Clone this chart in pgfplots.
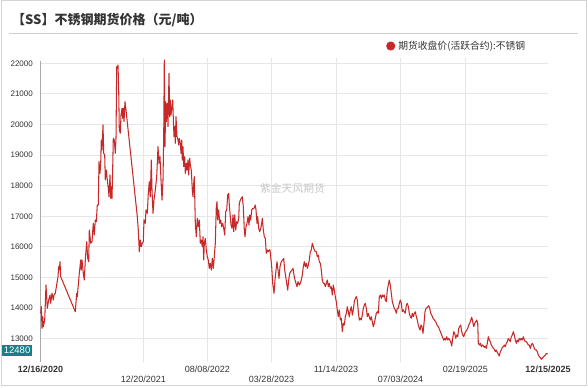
\documentclass[border=0pt]{standalone}
\usepackage{pgfplots}
\pgfplotsset{compat=1.18}
\usepackage{fontspec}
\setmainfont{Liberation Sans}
\newfontfamily\cjk{Noto Sans CJK SC}
\definecolor{ssred}{RGB}{200,40,40}
\definecolor{boxteal}{RGB}{27,125,135}
\definecolor{textgray}{RGB}{51,51,51}
\definecolor{gridgray}{RGB}{230,230,230}
\definecolor{framegray}{RGB}{212,212,212}
\definecolor{axisgray}{RGB}{170,170,170}
\pgfplotstableread{
x y
40.7 13830
41.3 14046
42 13340
42.7 13720
43.3 13392
44.7 13611
46 14755
47.3 13993
48.7 14265
50 14428
50.7 14157
52 14484
53.3 14265
54 14428
55.3 14484
58 15026
58.7 15353
59.3 15245
60 15516
60.7 15026
75.3 13882
76.7 14484
77.3 14373
79.3 15137
80.7 15572
81.3 15245
82 15572
83.3 15137
84.3 14918
85.3 15572
86.7 16170
87.7 15627
88.7 15516
89.3 16552
90.7 16118
92 16170
93.3 16771
94.3 16389
95.3 16879
96.3 16825
97.3 17369
98.3 17369
99 18784
100 18405
100.7 18732
101.3 19493
102 19167
103 19984
103.7 19059
104.7 19003
105.3 18186
106.3 18513
107.3 18186
108.3 17915
109 17640
110 18350
110.7 17588
111.3 17967
112 17588
112.7 18569
113.3 19549
114.3 19493
115.3 19059
116 19549
116.7 21889
117.3 21837
118 21944
118.7 21127
119.3 19820
120.3 19712
121 20310
122 20529
122.7 20203
123.3 20529
124 20092
125 20745
126 20474
126.7 20255
137.3 16990
138.3 16552
139.3 15843
140.3 16225
141.3 16006
142.3 16118
143.3 16170
144 16879
145.3 16771
146 17206
147.3 17098
148.3 17752
149.3 18131
150.3 17640
151.3 18840
152 17859
153 17098
154 17532
155.3 17859
156.7 18294
158 19274
159 18732
160 18948
161 18186
162 17532
163 18186
163.7 19601
164.3 22108
165 19274
165.7 20745
166.3 20092
167.3 20693
168 19928
169 21673
169.7 20255
170.3 20801
171 20310
172 20582
172.7 20801
173.3 20203
174 19601
174.7 19928
175.3 19386
176 20255
177 19601
178 19493
178.7 19330
179.3 19549
180.3 19386
181 19059
181.7 19493
182.3 18840
183 19274
183.7 18621
184.7 18948
185.3 18405
186.3 18732
187 18513
188 18840
188.7 18350
189.7 18895
190.3 18676
191.3 18513
192.3 17859
193 17640
193.7 18078
194.3 18294
195.3 16771
196.3 16333
197.3 16935
198.3 16660
199.3 16879
200.3 16118
201.3 16225
202.3 16006
203 16333
203.7 15572
204.3 16118
205.3 16281
206.3 15899
207.3 15680
208.3 15572
209.3 15300
210.3 15464
211.3 15245
212.3 15627
213.3 15300
214.3 15680
215.3 16118
216.3 17314
217 17477
217.7 16879
218.7 17206
219.7 16771
220.7 16879
221.7 16660
222.7 16771
223.7 16608
224.7 16389
225.7 17150
226.7 17206
227.7 17696
228.7 17752
229.3 17369
230.3 16987
231 16715
232 16608
233 17043
233.7 16497
234.7 17043
235.7 16552
236.7 16825
237.7 16771
238.7 16935
239.3 17423
240.3 17532
241.3 17588
242.3 17640
243.3 17314
244.3 16552
245 16333
246 16660
247 16771
248 16987
249 16715
249.7 17043
250.7 16879
251.7 17206
252.7 17260
254 17260
255.3 17369
256 17206
257 16771
257.7 16987
258.7 16608
259.7 16497
260.7 16608
261.7 16771
262.3 16935
263.3 16552
264.3 16333
265.3 16281
266.3 15791
267.3 15899
268.3 15843
269.3 15899
270 15899
271.7 15353
272.7 14810
274 14484
275 14918
276 15245
277 15516
278 15245
279 14974
280 15353
281.3 15516
282.7 15572
283.7 15627
284.7 15245
285.7 15026
286.7 14810
287.7 14591
288.7 14918
289.7 15137
290.7 15190
292 15245
293 15300
294 15082
295 14918
296 14810
297 14699
298 14863
299.3 14755
300.3 14810
301.3 14918
302.3 15082
303.3 15353
304.3 15516
305.3 15353
306.3 15464
307.3 15300
308.3 15408
309.3 15572
310.3 15843
311.3 15899
312.3 16118
313.3 16006
314.3 15899
315.3 15843
316.3 15843
317.3 15680
318.3 15735
319.3 15516
320.3 15464
321.3 15245
322.3 14918
323.3 14810
324.3 14810
325.3 14699
326.3 14810
327.3 14918
328.3 14699
329.3 14810
330.3 14647
331.3 14699
332.3 14428
333.3 14755
334.3 14591
335.3 14373
336.3 14209
337.3 13938
338.3 13720
339.3 13938
340.3 13611
341.3 13667
342.3 13229
343.3 13503
344.3 13448
345.3 13720
346.3 13830
347.3 14046
348.3 13882
349.3 13720
350.3 13938
351.3 14046
352.3 13774
353.3 13938
354.3 14209
355.3 14320
356.3 14373
357.3 14265
358.3 13882
359.3 13611
360.3 13667
361.3 13611
362.3 13774
363.3 13993
364.3 14101
365.3 14157
366.3 13993
367.3 13720
368.3 13830
369.3 13720
370.3 13611
371.3 13720
372.3 13555
373.3 13392
374.3 13503
375.3 13667
376.3 13830
377.3 13882
378.3 13830
379.3 14373
380.3 14428
381.3 14320
382.3 14428
383.3 14373
384.3 14428
385.3 14265
386.3 14209
387.3 14591
388.3 14755
389.3 14918
390.3 14755
391.3 14484
392.3 14209
393.3 14101
394.3 13993
395.3 13938
396.3 13830
397.3 13993
398.3 13993
399.3 14157
400.3 14265
401.3 14157
402.3 13882
403.3 13938
404.3 13882
405.3 13830
406.3 14101
407.3 14157
408.3 14050
409.3 13830
410.3 13720
411.3 13667
412.3 13830
413.3 13720
414.3 13830
415.3 13882
416.3 13720
417.3 13611
418.3 13448
419.3 13340
420 13284
421 13448
422 13392
423 13176
424 13503
425 13882
426 13993
427.3 14014
428.7 14080
429.7 13993
430.7 13830
431.7 13774
433 13667
434.3 13611
435.7 13555
437 13448
438.3 13392
439.7 13284
441 13176
442.3 13065
443.7 12950
444.7 13013
445.7 12957
446.7 13065
447.7 12957
448.7 13013
449.7 12957
450.7 12902
451.7 12761
452.7 13013
453.7 13229
454.7 13176
455.7 13013
456.7 13121
457.7 13065
458.7 13340
459.7 13392
460.7 13448
461.7 13229
462.7 13121
463.7 13065
464.7 13176
465.7 13229
466.7 13284
467.7 13340
468.7 13448
469.7 13503
470.7 13611
471.7 13700
472.7 13555
473.7 13392
474.7 13503
475.7 13555
476.7 13611
477.7 13503
478.3 12850
479.3 12794
480.3 12850
481.3 12738
482.3 12794
483.3 12761
484.3 12719
485.3 12761
486.3 12686
487.3 12850
488.3 13065
489.3 12957
490.3 12902
491.3 12794
492.3 12738
493.3 12686
494.3 12654
495.3 12575
496.3 12631
497.3 12542
498.3 12500
499.3 12435
500.3 12575
501.3 12631
502.3 12719
503.3 12738
504.3 12794
505.3 12738
506.3 12850
507.3 12902
508.3 13013
509.3 12957
510.3 12902
511.3 13065
512.3 13121
513.3 13229
514.3 13121
515.3 12957
516.3 12850
517.3 12957
518.3 12902
519.3 13013
520.3 12957
521.3 13013
522.3 12957
523.3 13065
524.3 12957
525.3 12902
526.3 12902
527.3 12850
528.3 12794
529.3 12794
530.3 12686
531.3 12794
532.3 12850
533.3 12794
534.3 12686
535.3 12631
536.3 12631
537.3 12575
538.3 12467
539.3 12412
540.3 12380
541.3 12327
542.3 12360
543.3 12412
544.3 12435
545.3 12467
546.3 12520
547.7 12500
}\ssdata
\begin{document}
\begin{tikzpicture}[x=1bp,y=1bp]
\useasboundingbox (0,0) rectangle (588,387);
\draw[framegray, line width=1bp] (1,1.5) rectangle (586.5,386);
\node[anchor=west, inner sep=0pt, text=textgray] at (12,367)
  {\cjk\bfseries\fontsize{13bp}{15bp}\selectfont 【SS】不锈钢期货价格（元/吨）};
\draw[gridgray!90!black, line width=1.5bp] (9,353.7) -- (578,353.7);
\begin{axis}[
  at={(40.5bp,25.5bp)}, anchor=south west,
  width=507.5bp, height=303.5bp, scale only axis,
  xmin=40.5, xmax=548, ymin=12255, ymax=22173,
  axis line style={draw=none},
  major tick length=0pt,
  xmajorgrids, ymajorgrids,
  major grid style={gridgray, line width=1bp},
  ytick={13000,14000,...,22000},
  scaled y ticks=false,
  /pgf/number format/1000 sep={},
  /pgf/number format/assume math mode=true,
  yticklabel style={inner sep=0pt, xshift=-7.5bp, font=\fontsize{8bp}{9bp}\selectfont, text=textgray},
  xtick={143.3,207.3,271.5,336,400.5,465.3},
  xticklabels={{\rule{0pt}{18bp}12/20/2021},{\rule{0pt}{8bp}08/08/2022},{\rule{0pt}{18bp}03/28/2023},{\rule{0pt}{8bp}11/14/2023},{\rule{0pt}{18bp}07/03/2024},{\rule{0pt}{8bp}02/19/2025}},
  extra x ticks={40.5,548},
  extra x tick labels={{\rule{0pt}{8bp}\textbf{12/16/2020}},{\rule{0pt}{8bp}\textbf{12/15/2025}}},
  extra x tick style={grid=none},
  xticklabel style={inner sep=0pt, anchor=north, yshift=-3bp, font=\fontsize{9bp}{10bp}\selectfont, text=textgray},
  clip=false,
  legend style={at={(axis description cs:0.6808,1.0395)}, anchor=west, draw=none, fill=none,
    inner sep=0pt, nodes={inner sep=0pt}, column sep=3bp,
    font=\cjk\fontsize{9.8bp}{11bp}\selectfont, text=textgray},
  legend image code/.code={\fill[ssred] (0bp,0bp) circle (4bp);},
]
\draw[axisgray, line width=0.8bp] (rel axis cs:0,0) -- (rel axis cs:0,0.99);
\node[text=black!22, font=\cjk\fontsize{10.8bp}{12bp}\selectfont] at (axis cs:292.5,17900) {紫金天风期货};
\addplot[ssred, line width=1.05bp, line join=round] table[x=x,y=y] {\ssdata};
\addlegendentry{期货收盘价(活跃合约):不锈钢}
\node[anchor=east, fill=boxteal, text=white, inner xsep=1.5bp, inner ysep=2bp,
  font=\fontsize{9.5bp}{10bp}\selectfont] at (axis cs:40.5,12620) [xshift=-8.5bp] {12480};
\end{axis}
\end{tikzpicture}
\end{document}
